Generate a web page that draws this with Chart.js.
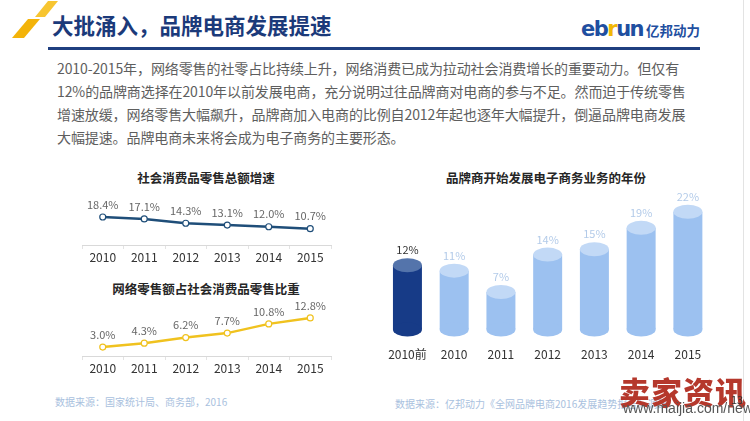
<!DOCTYPE html>
<html lang="zh-CN">
  <head>
    <meta charset="UTF-8" />
    <title>大批涌入，品牌电商发展提速</title>
    <script src="https://cdn.jsdelivr.net/npm/chart.js"></script>
    <style>
      html, body { margin: 0; padding: 0; background: #fff; }
      body {
        width: 750px; height: 421px; position: relative; overflow: hidden;
        font-family: "Noto Sans CJK SC", "Noto Sans", sans-serif;
      }
      .abs { position: absolute; }
      .title { left: 52px; top: 10px; font-size: 21.5px; font-weight: bold; color: #1b3a7a; line-height: 30px; }
      .rule { left: 48px; top: 47px; width: 652px; height: 3px; background: #1f3f80; }
      .logo { left: 581px; top: 16px; line-height: 26px; white-space: nowrap; }
      .logo .en { font-family: "DejaVu Sans", sans-serif; font-weight: bold; font-size: 21px; color: #1f4fa0; letter-spacing: -1.5px; }
      .logo .en b { color: #f2b705; }
      .logo .cn { font-size: 13.5px; font-weight: bold; color: #1f4fa0; margin-left: 3px; }
      .para { left: 57px; top: 57px; font-size: 14px; line-height: 23px; color: #5e5e5e; white-space: nowrap; letter-spacing: -0.1px; }
      .ctitle { font-size: 12.5px; font-weight: bold; color: #262626; text-align: center; white-space: nowrap; }
      .src { font-size: 10px; color: #a9c1de; white-space: nowrap; }
      .wm { left: 619px; top: 368px; font-size: 31px; font-weight: 900; color: #b5382c; letter-spacing: 1px; white-space: nowrap; }
      .wmurl { left: 623px; top: 400px; font-family: "Liberation Sans", sans-serif; font-size: 14px; color: #555; white-space: nowrap; }
      .page { left: 731px; top: 391px; font-size: 11px; color: #333; z-index: 5; }
      canvas { position: absolute; }
    </style>
  </head>
  <body>
    <!-- 左上角黄色斜条 -->
    <svg class="abs" style="left:0;top:0" width="60" height="45">
      <polygon points="12,38 24,38 40,19 28,19" fill="#f3b309" />
      <polygon points="35,17 45,17 58,1 48,1" fill="#f7c531" />
    </svg>

    <div class="abs title">大批涌入，品牌电商发展提速</div>
    <div class="abs logo"><span class="en">eb<b>r</b>un</span><span class="cn">亿邦动力</span></div>
    <div class="abs rule"></div>
    <div class="abs" style="left:743px;top:0;width:1px;height:421px;background:#e3e3e3"></div>

    <div class="abs para">
      2010-2015年，网络零售的社零占比持续上升，网络消费已成为拉动社会消费增长的重要动力。但仅有<br />
      12%的品牌商选择在2010年以前发展电商，充分说明过往品牌商对电商的参与不足。然而迫于传统零售<br />
      增速放缓，网络零售大幅飙升，品牌商加入电商的比例自2012年起也逐年大幅提升，倒逼品牌电商发展<br />
      大幅提速。品牌电商未来将会成为电子商务的主要形态。
    </div>

    <div class="abs ctitle" style="left:106px;top:168px;width:200px">社会消费品零售总额增速</div>
    <canvas id="growthChart" style="left:60px;top:185px;width:290px;height:90px"></canvas>

    <div class="abs ctitle" style="left:106px;top:279px;width:200px">网络零售额占社会消费品零售比重</div>
    <canvas id="shareChart" style="left:60px;top:294px;width:290px;height:90px"></canvas>

    <div class="abs src" style="left:55px;top:394px">数据来源：国家统计局、商务部，2016</div>

    <div class="abs ctitle" style="left:446px;top:168px;width:200px">品牌商开始发展电子商务业务的年份</div>
    <canvas id="brandChart" style="left:370px;top:190px;width:380px;height:200px"></canvas>

    <div class="abs src" style="left:395px;top:396px">数据来源：亿邦动力《全网品牌电商2016发展趋势报告》调研</div>

    <div class="abs wm">卖家资讯</div>
    <div class="abs wmurl">www.maijia.com/news</div>
    <div class="abs page">13</div>

    <script>
      // データ
      const years = ["2010", "2011", "2012", "2013", "2014", "2015"];
      const retailGrowth = [18.4, 17.1, 14.3, 13.1, 12.0, 10.7];
      const onlineShare = [3.0, 4.3, 6.2, 7.7, 10.8, 12.8];
      const brandYears = ["2010前", "2010", "2011", "2012", "2013", "2014", "2015"];
      const brandShare = [12, 11, 7, 14, 15, 19, 22];

      const FONT = '"Noto Sans CJK SC", "Noto Sans", sans-serif';
      Chart.defaults.font.family = FONT;
      Chart.defaults.animation = false;

      // 折れ線の上に数値を描く
      const lineLabels = {
        id: "lineLabels",
        afterDatasetsDraw(chart) {
          const ctx = chart.ctx;
          const meta = chart.getDatasetMeta(0);
          const data = chart.data.datasets[0].data;
          ctx.save();
          ctx.font = "11px " + FONT;
          ctx.fillStyle = "#666";
          ctx.textAlign = "center";
          ctx.textBaseline = "middle";
          meta.data.forEach((pt, i) => {
            ctx.fillText(data[i].toFixed(1) + "%", pt.x, pt.y - 12.5);
          });
          ctx.restore();
        },
      };

      function lineChart(id, values, color, max, pad) {
        return new Chart(document.getElementById(id), {
          type: "line",
          data: {
            labels: years,
            datasets: [
              {
                data: values,
                borderColor: color,
                borderWidth: 2.5,
                pointRadius: 3,
                pointBorderWidth: 1.2,
                pointBackgroundColor: "#fff",
                pointBorderColor: color,
                tension: 0,
              },
            ],
          },
          options: {
            responsive: false,
            layout: { padding: pad },
            plugins: { legend: { display: false }, tooltip: { enabled: false } },
            scales: {
              x: {
                offset: true,
                border: { color: "#d9d9d9" },
                grid: { drawOnChartArea: false, tickLength: 4, color: "#e3e3e3", offset: true },
                ticks: { color: "#333", font: { size: 12 }, padding: 1 },
              },
              y: { display: false, min: 0, max: max },
            },
          },
          plugins: [lineLabels],
        });
      }

      lineChart("growthChart", retailGrowth, "#1f4e79", 36, { left: 22, right: 19, top: 5, bottom: 9.6 });
      lineChart("shareChart", onlineShare, "#f0c21f", 19.1, { left: 22, right: 19, top: 5, bottom: 7.6 });

      // 円柱の上下の楕円と数値
      const cylinders = {
        id: "cylinders",
        afterDatasetsDraw(chart) {
          const ctx = chart.ctx;
          const meta = chart.getDatasetMeta(0);
          const data = chart.data.datasets[0].data;
          ctx.save();
          meta.data.forEach((bar, i) => {
            const rx = bar.width / 2;
            const ry = 7;
            const dark = i === 0;
            ctx.fillStyle = dark ? "#173b87" : "#9cc1f0";
            ctx.beginPath();
            ctx.ellipse(bar.x, bar.base, rx, ry, 0, 0, Math.PI * 2);
            ctx.fill();
            ctx.fillStyle = dark ? "#5474ab" : "#c2d9f6";
            ctx.beginPath();
            ctx.ellipse(bar.x, bar.y, rx, ry, 0, 0, Math.PI * 2);
            ctx.fill();
            ctx.font = "11px " + FONT;
            ctx.fillStyle = dark ? "#333" : "#b3cbe9";
            ctx.textAlign = "center";
            ctx.textBaseline = "middle";
            ctx.fillText(data[i] + "%", bar.x, bar.y - 15);
          });
          ctx.restore();
        },
      };

      new Chart(document.getElementById("brandChart"), {
        type: "bar",
        data: {
          labels: brandYears,
          datasets: [
            {
              data: brandShare,
              backgroundColor: brandShare.map((_, i) => (i === 0 ? "#173b87" : "#9cc1f0")),
              borderWidth: 0,
              categoryPercentage: 1,
              barPercentage: 0.62,
            },
          ],
        },
        options: {
          responsive: false,
          layout: { padding: { left: 8.75, right: 38.75, top: 5.75, bottom: 11.1 } },
          plugins: { legend: { display: false }, tooltip: { enabled: false } },
          scales: {
            x: {
              border: { display: false },
              grid: { display: false, drawTicks: false },
              ticks: { color: "#333", font: { size: 12 }, padding: 17.5 },
            },
            y: { display: false, min: 0, max: 25 },
          },
        },
        plugins: [cylinders],
      });
    </script>
  </body>
</html>
